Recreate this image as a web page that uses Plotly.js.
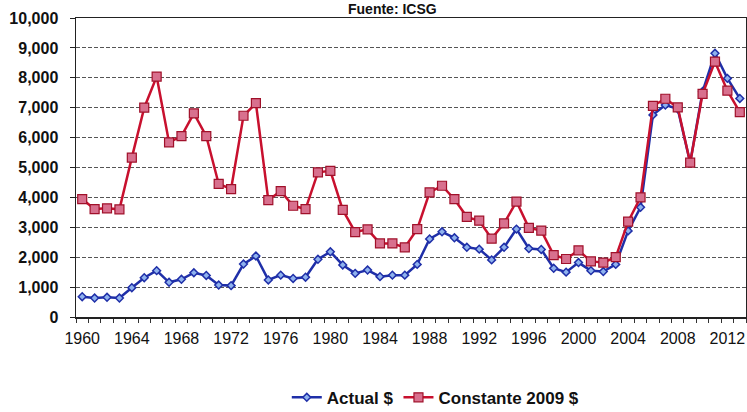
<!DOCTYPE html>
<html>
<head>
<meta charset="utf-8">
<script src="https://cdn.plot.ly/plotly-3.0.1.min.js"></script>
<style>html,body{margin:0;padding:0;background:#fff;}#chart{width:747px;height:412px;}</style>
</head>
<body>
<div id="chart"></div>
<script>
const years = [];
for (let y = 1960; y <= 2013; y++) years.push(y);

const actual = [680, 635, 660, 635, 980, 1315, 1550, 1160, 1260, 1480,
  1390, 1070, 1050, 1770, 2040, 1240, 1400, 1290, 1330, 1930,
  2180, 1740, 1460, 1570, 1350, 1400, 1400, 1760, 2610, 2850,
  2650, 2330, 2270, 1910, 2330, 2940, 2290, 2260, 1630, 1500,
  1820, 1550, 1520, 1760, 2880, 3670, 6760, 7090, 6960, 5160,
  7540, 8820, 7980, 7310];

const constante = [3940, 3610, 3635, 3600, 5330, 7000, 8040, 5840, 6050, 6810,
  6050, 4450, 4280, 6730, 7150, 3910, 4210, 3720, 3610, 4840,
  4890, 3580, 2840, 2930, 2460, 2460, 2330, 2940, 4170, 4390,
  3940, 3350, 3220, 2620, 3130, 3860, 2980, 2890, 2070, 1940,
  2230, 1860, 1820, 2000, 3190, 4000, 7060, 7300, 7010, 5160,
  7460, 8540, 7570, 6850];

const xTickVals = [1960, 1964, 1968, 1972, 1976, 1980, 1984, 1988, 1992, 1996, 2000, 2004, 2008, 2012];
const xTickText = xTickVals.map(String);
const yTickVals = [0, 1000, 2000, 3000, 4000, 5000, 6000, 7000, 8000, 9000, 10000];
const yTickText = ['0', '1,000', '2,000', '3,000', '4,000', '5,000', '6,000', '7,000', '8,000', '9,000', '10,000'];
const seriesNames = ['Actual $', 'Constante 2009 $'];
const titleText = 'Fuente: ICSG';

const traces = [
  {
    x: years, y: actual, name: seriesNames[0], type: 'scatter', mode: 'lines+markers',
    line: {color: '#1f2fa8', width: 2.5},
    marker: {symbol: 'diamond', size: 6, color: '#8fb2ee', line: {color: '#1f2fa8', width: 1.5}}
  },
  {
    x: years, y: constante, name: seriesNames[1], type: 'scatter', mode: 'lines+markers',
    line: {color: '#c8102e', width: 2.5},
    marker: {symbol: 'square', size: 9, color: '#d8708e', line: {color: '#a0102a', width: 1.2}}
  }
];

const layout = {
  width: 747, height: 412,
  margin: {l: 76, r: 1, t: 18, b: 95, autoexpand: false},
  paper_bgcolor: '#ffffff', plot_bgcolor: '#ffffff',
  font: {family: 'Liberation Sans, Arial, sans-serif', color: '#111'},
  showlegend: true,
  legend: {
    orientation: 'h', x: 0.537, xanchor: 'center', y: -0.27, yanchor: 'middle',
    font: {size: 17, family: 'Liberation Sans, Arial, sans-serif', weight: 'bold', color: '#111'},
    itemwidth: 30, tracegroupgap: 0
  },
  xaxis: {
    type: 'linear', range: [1959.5, 2013.5],
    tickmode: 'array', tickvals: xTickVals, ticktext: xTickText,
    ticks: '', showgrid: false, zeroline: false,
    showline: true, linecolor: '#222', linewidth: 1.5, mirror: true,
    tickfont: {size: 16, family: 'Liberation Sans, Arial, sans-serif', color: '#111'},
    ticklabelstandoff: 6,
    minor: {ticks: 'outside', ticklen: 4, tick0: 1959.5, dtick: 1, tickcolor: '#333', showgrid: false}
  },
  yaxis: {
    range: [0, 10000], tickmode: 'array', tickvals: yTickVals, ticktext: yTickText,
    ticks: 'outside', ticklen: 5, tickcolor: '#222',
    showgrid: true, gridcolor: '#555', gridwidth: 1, griddash: '4px,2px',
    zeroline: false, showline: true, linecolor: '#222', linewidth: 1.5, mirror: true,
    tickfont: {size: 16, weight: 'bold', color: '#111'},
    ticklabelstandoff: 8
  },
  annotations: [{
    text: titleText, xref: 'paper', yref: 'paper', x: 0.473, y: 1.0,
    xanchor: 'center', yanchor: 'bottom', showarrow: false, borderpad: 0,
    font: {size: 14, weight: 'bold', color: '#111'}
  }]
};

Plotly.newPlot('chart', traces, layout, {displayModeBar: false, staticPlot: true});
</script>
</body>
</html>
